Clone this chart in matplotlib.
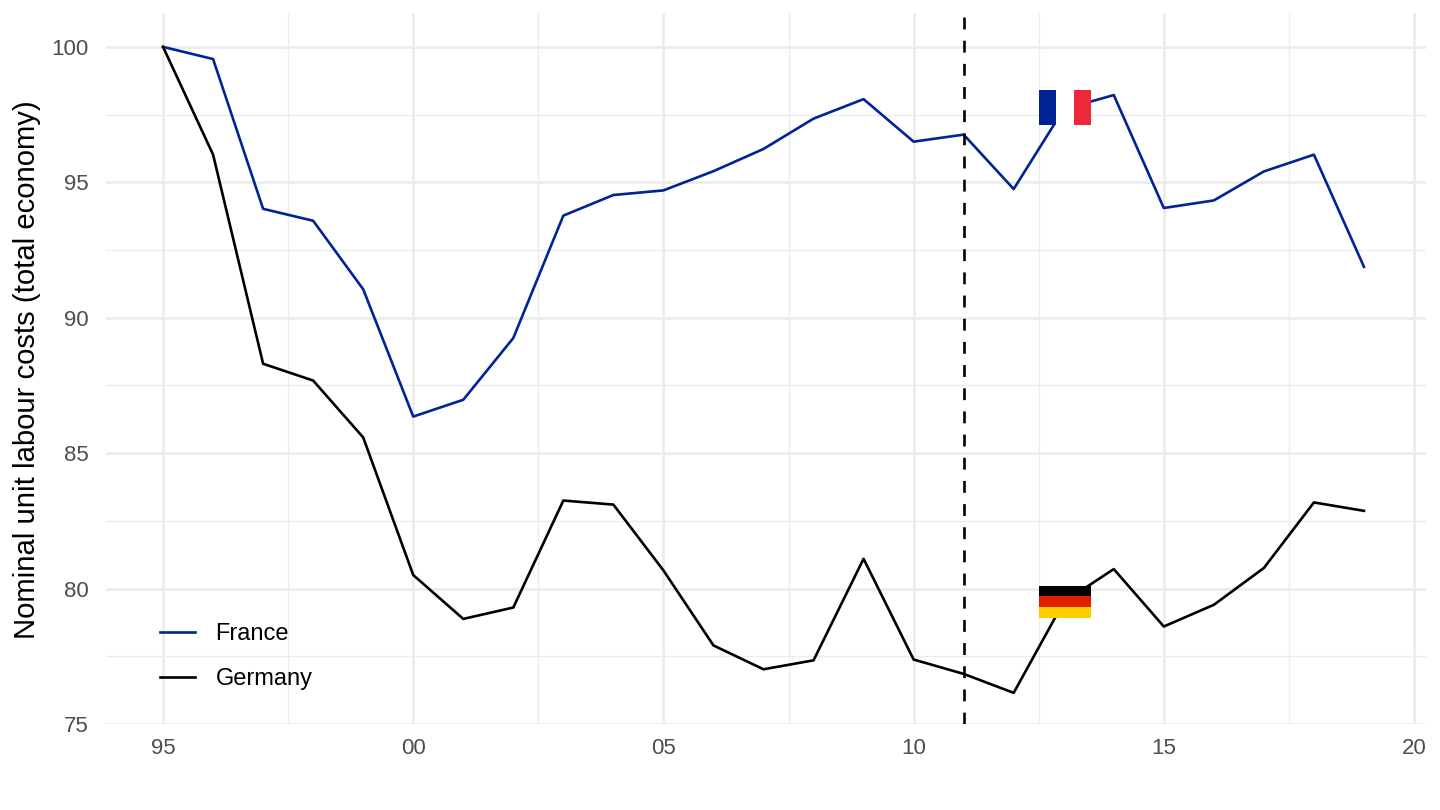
import matplotlib
matplotlib.use("Agg")
import matplotlib.pyplot as plt
from matplotlib.patches import Rectangle

plt.rcParams['font.family'] = ['Liberation Sans', 'DejaVu Sans']

years = list(range(1995, 2020))
france = [100, 99.55, 94.02, 93.58, 91.05, 86.35, 86.97, 89.25, 93.77, 94.53, 94.7, 95.41,
          96.23, 97.35, 98.07, 96.5, 96.76, 94.75, 97.7, 98.22, 94.05, 94.33, 95.4, 96.02, 91.88]
germany = [100, 96.02, 88.3, 87.68, 85.58, 80.5, 78.88, 79.3, 83.25, 83.1, 80.67, 77.9,
           77.02, 77.35, 81.1, 77.38, 76.85, 76.15, 79.5, 80.72, 78.6, 79.4, 80.76, 83.18, 82.87]

x_ticks = [1995, 2000, 2005, 2010, 2015, 2020]
x_labels = ['95', '00', '05', '10', '15', '20']
y_ticks = [75, 80, 85, 90, 95, 100]
vline_year = 2011

fr_blue = '#002395'
fr_red = '#ED2939'
de_colors = ['#000000', '#DD2000', '#FFCE00']

fig = plt.figure(figsize=(14.4, 8.1), dpi=100)
ax = fig.add_axes([106 / 1440, 1 - 724 / 810, (1426 - 106) / 1440, (724 - 13) / 810])

ax.plot(years, france, color=fr_blue, lw=1.9, zorder=3, label='France')
ax.plot(years, germany, color='black', lw=1.9, zorder=3, label='Germany')
ax.axvline(vline_year, color='black', lw=1.9, ls=(0, (4.5, 4.28)), zorder=3)

# flags
ax.add_patch(Rectangle((2012.5, 97.12), 0.35, 1.29, fc=fr_blue, ec='none', zorder=4))
ax.add_patch(Rectangle((2012.85, 97.12), 0.35, 1.29, fc='white', ec='none', zorder=4))
ax.add_patch(Rectangle((2013.2, 97.12), 0.35, 1.29, fc=fr_red, ec='none', zorder=4))
for i, c in enumerate(de_colors):
    ax.add_patch(Rectangle((2012.5, 79.71 - i * 0.4), 1.05, 0.4, fc=c, ec='none', zorder=4))

ax.set_xlim(1993.86, 2020.24)
ax.set_ylim(75, 101.25)
ax.set_xticks(x_ticks)
ax.set_xticklabels(x_labels)
ax.set_xticks([1997.5, 2002.5, 2007.5, 2012.5, 2017.5], minor=True)
ax.set_yticks(y_ticks)
ax.set_yticks([77.5, 82.5, 87.5, 92.5, 97.5], minor=True)

ax.grid(True, which='major', color='#ECECEC', lw=2.0, zorder=1)
ax.grid(True, which='minor', color='#ECECEC', lw=1.0, zorder=1)
ax.set_axisbelow(True)
for s in ax.spines.values():
    s.set_visible(False)
ax.tick_params(which='both', length=0)
ax.tick_params(axis='y', which='major', labelsize=16, labelcolor='#4D4D4D', pad=12.7)
ax.tick_params(axis='x', which='major', labelsize=16, labelcolor='#4D4D4D', pad=10)
ax.set_ylabel('Nominal unit labour costs (total economy)', fontsize=21.1)
ax.yaxis.set_label_coords(-0.049, 0.498)

ax.legend(loc='lower left', bbox_to_anchor=(0.0409, 0.048), frameon=False, fontsize=17,
          handlelength=1.5, labelspacing=0.95, handletextpad=0.85, borderpad=0, borderaxespad=0)

fig.savefig('out.png', dpi=100, facecolor='white')
